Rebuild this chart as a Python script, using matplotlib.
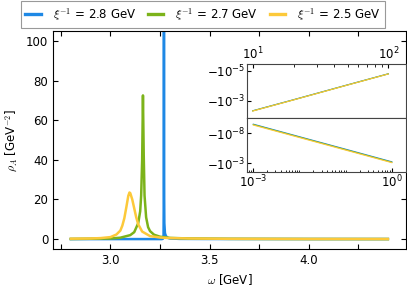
import matplotlib
matplotlib.use("Agg")
import matplotlib.pyplot as plt
from matplotlib.ticker import (MultipleLocator, FixedLocator, NullLocator,
                               LogLocator, NullFormatter)

plt.rcParams['font.family'] = ['DejaVu Sans']
plt.rcParams['mathtext.fontset'] = 'cm'
plt.rcParams['font.size'] = 8.5

# series labels and colours
labels = [r'$\xi^{-1}$ = 2.8 GeV', r'$\xi^{-1}$ = 2.7 GeV', r'$\xi^{-1}$ = 2.5 GeV']
colors = ['#1e88e5', '#7cb31a', '#fcc93a']

# main panel: spectral functions rho_A(omega)
w_blue = [2.80, 3.00, 3.20, 3.26, 3.265, 3.268, 3.2695, 3.270, 3.2705, 3.272, 3.275,
          3.28, 3.29, 3.30, 3.35, 3.50, 4.00, 4.40]
rho_blue = [0.0, 0.0, 0.0, 0.0, 0.2, 2.0, 30.0, 400.0, 30.0, 8.0, 3.0,
            1.5, 0.6, 0.3, 0.1, 0.05, 0.02, 0.01]

w_green = [2.80, 3.00, 3.05, 3.10, 3.12, 3.14, 3.15, 3.155, 3.16, 3.164, 3.168, 3.172,
           3.18, 3.19, 3.20, 3.22, 3.25, 3.30, 3.40, 3.60, 4.00, 4.40]
rho_green = [0.05, 0.3, 0.7, 2.0, 3.5, 8.0, 14.0, 22.0, 40.0, 72.5, 42.0, 22.0,
             11.0, 6.0, 4.0, 2.2, 1.2, 0.6, 0.3, 0.12, 0.04, 0.02]

w_yellow = [2.80, 2.90, 2.95, 3.00, 3.03, 3.05, 3.06, 3.07, 3.08, 3.09, 3.096, 3.10,
            3.11, 3.12, 3.13, 3.14, 3.16, 3.20, 3.25, 3.30, 3.40, 3.60, 4.00, 4.40]
rho_yellow = [0.2, 0.3, 0.5, 1.0, 2.3, 4.3, 6.8, 10.5, 16.0, 21.8, 23.5, 23.2,
              20.0, 15.5, 11.0, 7.5, 3.8, 1.5, 0.8, 0.5, 0.3, 0.15, 0.05, 0.02]

# inset, upper panel (large omega)
x_hi = [10, 20, 50, 100]
hi_blue = [-4.4e-3, -8.2e-4, -8.6e-5, -1.6e-5]
hi_green = [-4.5e-3, -8.4e-4, -8.8e-5, -1.63e-5]
hi_yellow = [-4.6e-3, -8.5e-4, -8.9e-5, -1.65e-5]

# inset, lower panel (small omega)
x_lo = [1e-3, 1e-2, 1e-1, 1.0]
lo_blue = [-3.0e-10, -3.7e-8, -4.5e-6, -5.6e-4]
lo_green = [-3.5e-10, -4.3e-8, -5.3e-6, -6.6e-4]
lo_yellow = [-4.2e-10, -5.1e-8, -6.3e-6, -7.8e-4]

fig = plt.figure(figsize=(4.07, 2.96), dpi=100)
ax = fig.add_axes([0.1302, 0.1588, 0.8666, 0.7365])

ax.plot(w_blue, rho_blue, color=colors[0], lw=1.8, label=labels[0])
ax.plot(w_green, rho_green, color=colors[1], lw=1.8, label=labels[1])
ax.plot(w_yellow, rho_yellow, color=colors[2], lw=1.8, label=labels[2])

ax.set_xlim(2.71, 4.49)
ax.set_ylim(-5, 105)
ax.xaxis.set_major_locator(MultipleLocator(0.5))
ax.xaxis.set_minor_locator(MultipleLocator(0.25))
ax.yaxis.set_major_locator(MultipleLocator(20))
ax.tick_params(which='both', direction='in', top=True, right=True, length=3.5, width=0.8)
ax.set_xlabel(r'$\omega$ [GeV]')
ax.set_ylabel(r'$\rho_A$ [GeV$^{-2}$]')

leg = fig.legend(loc='center', bbox_to_anchor=(203 / 407, 1 - 14.5 / 296), ncol=3,
                 fancybox=False, edgecolor='#999999', framealpha=1,
                 handlelength=1.3, handletextpad=1.0, columnspacing=1.0,
                 borderpad=0.4)
leg.get_frame().set_linewidth(0.8)
for ln in leg.get_lines():
    ln.set_linewidth(2.4)

# inset
ins_hi = fig.add_axes([0.6076, 0.6014, 0.3892, 0.1824])
ins_lo = fig.add_axes([0.6076, 0.4189, 0.3892, 0.1824])

ins_hi.plot(x_hi, hi_blue, color=colors[0], lw=0.8)
ins_hi.plot(x_hi, hi_green, color=colors[1], lw=0.8)
ins_hi.plot(x_hi, hi_yellow, color=colors[2], lw=0.8)
ins_lo.plot(x_lo, lo_blue, color=colors[0], lw=0.8)
ins_lo.plot(x_lo, lo_green, color=colors[1], lw=0.8)
ins_lo.plot(x_lo, lo_yellow, color=colors[2], lw=0.8)

for a in (ins_hi, ins_lo):
    a.set_xscale('log')
    a.set_yscale('symlog', linthresh=1e-12, linscale=0.01)
    a.yaxis.set_minor_locator(NullLocator())
    a.xaxis.set_minor_locator(LogLocator(base=10, subs=range(1, 10), numticks=30))
    a.xaxis.set_minor_formatter(NullFormatter())
    for s in a.spines.values():
        s.set_color('#444444')
        s.set_linewidth(0.8)

ins_hi.set_xlim(10 ** 0.96, 10 ** 2.128)
ins_hi.set_ylim(-10 ** -1.88, -10 ** -5.44)
ins_hi.xaxis.set_major_locator(FixedLocator([10, 100]))
ins_hi.yaxis.set_major_locator(FixedLocator([-1e-5, -1e-3]))
ins_hi.tick_params(axis='x', which='both', top=True, bottom=False, labeltop=True,
                   labelbottom=False, direction='in')
ins_hi.tick_params(axis='x', which='major', length=3, pad=1.5)
ins_hi.tick_params(axis='x', which='minor', length=1.8)
ins_hi.tick_params(axis='y', direction='in', length=3, pad=1.5)

ins_lo.set_xlim(10 ** -3.13, 10 ** 0.30)
ins_lo.set_ylim(-10 ** -1.55, -10 ** -10.55)
ins_lo.xaxis.set_major_locator(FixedLocator([1e-3, 1.0]))
ins_lo.yaxis.set_major_locator(FixedLocator([-1e-8, -1e-3]))
ins_lo.tick_params(axis='x', which='both', direction='in')
ins_lo.tick_params(axis='x', which='major', length=3, pad=1.5)
ins_lo.tick_params(axis='x', which='minor', length=1.8)
ins_lo.tick_params(axis='y', direction='in', length=3, pad=1.5)

fig.savefig('out.png', dpi=100)
